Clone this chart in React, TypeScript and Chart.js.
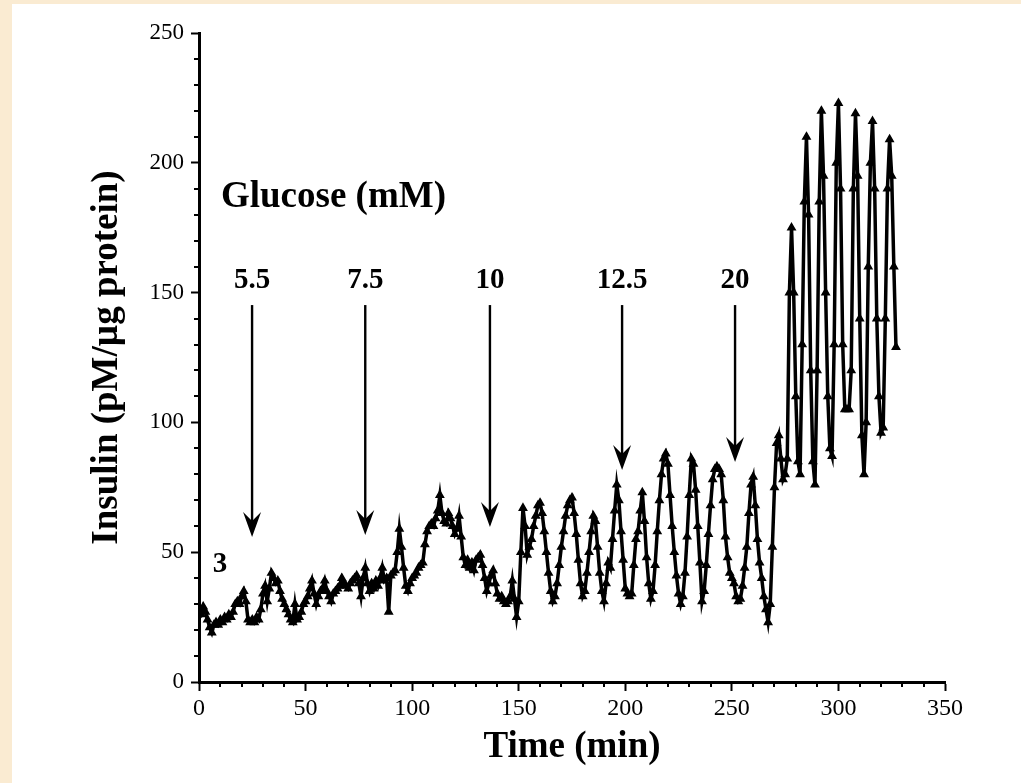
import React, { useEffect, useRef } from 'react';
import { Chart, registerables } from 'chart.js';

Chart.register(...registerables);

// Sampling interval of the insulin trace (minutes between samples)
const sampleIntervalMin = 1;

// Insulin (pM/µg protein), one value per minute starting at t = 0
const insulin = [
  27, 26, 29, 27, 24, 21, 19, 22, 23, 22,
  24, 23, 25, 24, 26, 25, 27, 30, 31, 30,
  33, 35, 31, 24, 23, 24, 23, 25, 24, 28,
  34, 37, 31, 36, 42, 40, 38, 39, 35, 32,
  30, 28, 26, 24, 23, 30, 24, 25, 27, 30,
  31, 33, 36, 39, 34, 30, 33, 35, 36, 39,
  35, 33, 31, 34, 35, 36, 37, 40, 38, 37,
  36, 38, 39, 40, 41, 38, 33, 40, 44, 38,
  35, 38, 36, 39, 37, 40, 44, 39, 40, 27,
  41, 42, 43, 50, 59, 52, 44, 37, 35, 38,
  40, 41, 42, 44, 45, 46, 53, 58, 60, 61,
  60, 63, 66, 72, 65, 62, 61, 65, 63, 60,
  57, 59, 64, 56, 48, 45, 47, 44, 46, 43,
  47, 48, 49, 45, 40, 35, 38, 41, 43, 38,
  34, 32, 33, 31, 30, 31, 33, 39, 32, 25,
  31, 50, 67, 60, 49, 52, 55, 60, 64, 68,
  69, 65, 58, 50, 42, 35, 31, 33, 38, 45,
  52, 58, 64, 68, 70, 71, 65, 57, 47, 38,
  33, 35, 42, 50, 58, 64, 62, 52, 42, 35,
  31, 38, 46, 44, 55, 66, 76, 70, 58, 47,
  36, 34, 33, 34, 45, 55, 58, 66, 73, 62,
  48, 38, 32, 35, 45, 58, 70, 80, 86, 88,
  84, 72, 60, 50, 41, 34, 30, 33, 42, 56,
  72, 86, 84, 74, 60, 46, 31, 35, 45, 57,
  68, 78, 82, 83, 82, 80, 70, 56, 48, 42,
  40, 38, 33, 31, 32, 37, 44, 52, 65, 76,
  79, 68, 55, 46, 40, 33, 28, 23, 30, 52,
  75, 92, 95, 86, 78, 80, 86, 150, 175, 150,
  110, 85, 80, 130, 185, 210, 180, 120, 85, 76,
  120, 185, 220, 195, 150, 110, 90, 87, 130, 200,
  223, 190, 130, 105, 105, 105, 120, 190, 219, 195,
  140, 95, 80, 100, 160, 200, 216, 190, 140, 110,
  96, 98, 140, 190, 209, 195, 160, 129,
];

// Axes
const xMin = 0;
const xMax = 350;
const xMajorStep = 50;
const yMin = 0;
const yMax = 250;
const yMajorStep = 50;
const minorStep = 10;
const xTitle = 'Time (min)';
const yTitle = 'Insulin (pM/µg protein)';

// Glucose step annotations
const glucoseTitle = 'Glucose (mM)';
const glucoseLevels = ['5.5', '7.5', '10', '12.5', '20'];
const arrowTimes = [24.9, 78.0, 136.5, 198.5, 251.5];
const arrowTips = [55.9, 56.6, 59.7, 81.7, 84.7];
const arrowTopValue = 145.2;
const levelLabelValue = 154.5;
const glucoseTitleAt = [10.3, 186.8];
const baselineLabel = '3';
const baselineLabelAt = [9.9, 45.1];

const SERIF = '"Liberation Serif", "Times New Roman", serif';

const minorTicksPlugin = {
  id: 'minorTicks',
  afterDraw(chart: any) {
    const { ctx, scales } = chart;
    const x = scales.x;
    const y = scales.y;
    ctx.save();
    ctx.strokeStyle = '#000';
    ctx.lineWidth = 2;
    ctx.beginPath();
    for (let v = xMin; v <= xMax; v += minorStep) {
      if (v % xMajorStep === 0) continue;
      const px = Math.round(x.getPixelForValue(v));
      ctx.moveTo(px, y.bottom);
      ctx.lineTo(px, y.bottom + 5);
    }
    for (let v = yMin; v <= yMax; v += minorStep) {
      if (v % yMajorStep === 0) continue;
      const py = Math.round(y.getPixelForValue(v));
      ctx.moveTo(x.left, py);
      ctx.lineTo(x.left - 5, py);
    }
    ctx.stroke();
    ctx.restore();
  },
};

const annotationPlugin = {
  id: 'glucoseAnnotations',
  afterDatasetsDraw(chart: any) {
    const { ctx, scales } = chart;
    const x = scales.x;
    const y = scales.y;
    ctx.save();
    ctx.fillStyle = '#000';
    ctx.strokeStyle = '#000';

    ctx.font = `bold 37px ${SERIF}`;
    ctx.textAlign = 'left';
    ctx.textBaseline = 'middle';
    ctx.fillText(glucoseTitle, x.getPixelForValue(glucoseTitleAt[0]), y.getPixelForValue(glucoseTitleAt[1]));

    ctx.font = `bold 29px ${SERIF}`;
    ctx.textAlign = 'center';
    ctx.fillText(baselineLabel, x.getPixelForValue(baselineLabelAt[0]), y.getPixelForValue(baselineLabelAt[1]));

    glucoseLevels.forEach((lbl, i) => {
      const px = x.getPixelForValue(arrowTimes[i]);
      const top = y.getPixelForValue(arrowTopValue);
      const tip = y.getPixelForValue(arrowTips[i]);
      ctx.font = `bold 29px ${SERIF}`;
      ctx.textAlign = 'center';
      ctx.textBaseline = 'middle';
      ctx.fillText(lbl, px, y.getPixelForValue(levelLabelValue));
      ctx.lineWidth = 2.4;
      ctx.beginPath();
      ctx.moveTo(px, top);
      ctx.lineTo(px, tip - 12);
      ctx.stroke();
      ctx.beginPath();
      ctx.moveTo(px, tip);
      ctx.lineTo(px - 9, tip - 25);
      ctx.lineTo(px, tip - 16);
      ctx.lineTo(px + 9, tip - 25);
      ctx.closePath();
      ctx.fill();
    });
    ctx.restore();
  },
};

export default function App() {
  const canvasRef = useRef<HTMLCanvasElement | null>(null);

  useEffect(() => {
    if (!canvasRef.current) return;
    const points = insulin.map((v, i) => ({ x: i * sampleIntervalMin, y: v }));
    const chart = new Chart(canvasRef.current, {
      type: 'line',
      data: {
        datasets: [
          {
            data: points,
            borderColor: '#000',
            borderWidth: 3.5,
            backgroundColor: '#000',
            pointStyle: 'triangle',
            pointRadius: 4.2,
            pointBackgroundColor: '#000',
            pointBorderColor: '#000',
            pointBorderWidth: 1.5,
            tension: 0,
            fill: false,
          },
        ],
      },
      options: {
        animation: false,
        responsive: false,
        devicePixelRatio: 1,
        layout: { padding: { left: 0, right: 76, top: 33, bottom: 0 } },
        plugins: {
          legend: { display: false },
          tooltip: { enabled: false },
        },
        scales: {
          x: {
            type: 'linear',
            min: xMin,
            max: xMax,
            afterFit: (s: any) => {
              s.height = 101;
            },
            ticks: {
              stepSize: xMajorStep,
              color: '#000',
              font: { family: SERIF, size: 24 },
              padding: 3,
              maxRotation: 0,
              autoSkip: false,
            },
            grid: {
              display: true,
              drawOnChartArea: false,
              drawTicks: true,
              tickLength: 9,
              tickWidth: 2,
              tickColor: '#000',
            },
            border: { display: true, color: '#000', width: 3 },
            title: {
              display: true,
              text: xTitle,
              color: '#000',
              font: { family: SERIF, size: 37, weight: 'bold' },
              padding: { top: 0, bottom: 13 },
            },
          },
          y: {
            type: 'linear',
            min: yMin,
            max: yMax,
            afterFit: (s: any) => {
              s.width = 199;
            },
            ticks: {
              stepSize: yMajorStep,
              color: '#000',
              font: { family: SERIF, size: 23 },
              padding: 7,
              autoSkip: false,
            },
            grid: {
              display: true,
              drawOnChartArea: false,
              drawTicks: true,
              tickLength: 8,
              tickWidth: 2,
              tickColor: '#000',
            },
            border: { display: true, color: '#000', width: 3 },
            title: {
              display: true,
              text: yTitle,
              color: '#000',
              font: { family: SERIF, size: 37, weight: 'bold' },
              padding: { top: 85, bottom: 0 },
            },
          },
        },
      },
      plugins: [minorTicksPlugin, annotationPlugin],
    });
    return () => chart.destroy();
  }, []);

  return (
    <div
      style={{
        position: 'fixed',
        left: 0,
        top: 0,
        width: 1021,
        height: 783,
        background: '#FAEBD2',
        overflow: 'hidden',
      }}
    >
      <div style={{ position: 'absolute', left: 12, top: 4, right: 0, bottom: 0, background: '#fff' }} />
      <canvas
        ref={canvasRef}
        width={1021}
        height={783}
        style={{ position: 'absolute', left: 0, top: 0, width: 1021, height: 783 }}
      />
    </div>
  );
}
